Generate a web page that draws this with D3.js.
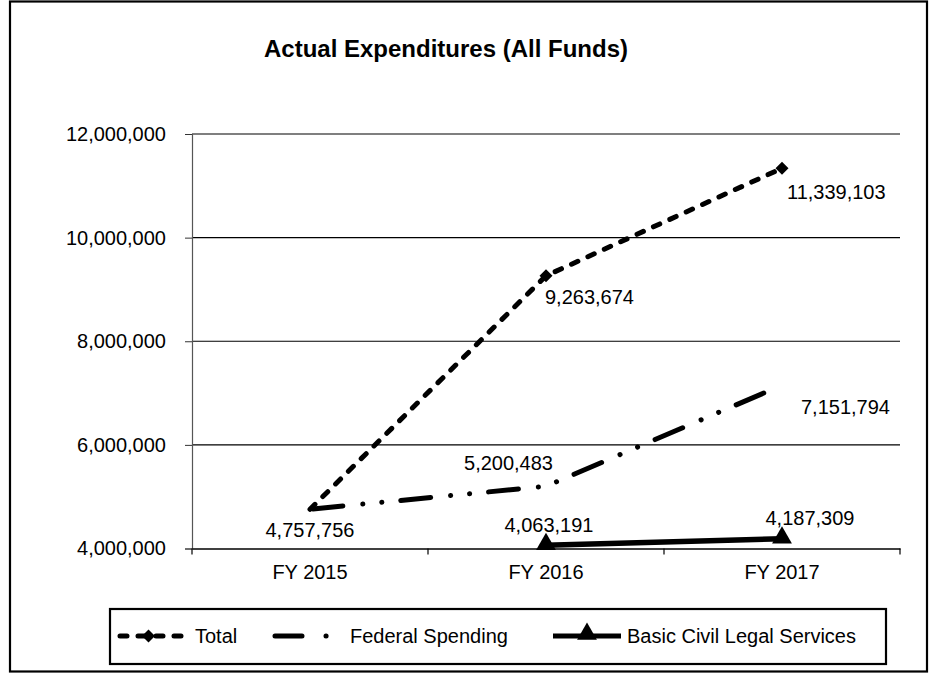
<!DOCTYPE html>
<html><head><meta charset="utf-8">
<script src="https://cdn.jsdelivr.net/npm/d3@7"></script>
<style>body{margin:0;background:#fff}svg{display:block}text{font-family:"Liberation Sans",Arial,sans-serif;fill:#000}</style>
</head><body><svg id="c" width="935" height="673"></svg>
<script>
const categories = ["FY 2015", "FY 2016", "FY 2017"];
const totalValues = [4757756, 9263674, 11339103];
const federalValues = [4757756, 5200483, 7151794];
const basicValues = [null, 4063191, 4187309];
const yTicks = [4000000, 6000000, 8000000, 10000000, 12000000];
const seriesNames = ["Total", "Federal Spending", "Basic Civil Legal Services"];

const svg = d3.select("#c");
svg.append("rect").attr("x",10).attr("y",1.5).attr("width",917).attr("height",670)
  .attr("fill","none").attr("stroke","#000").attr("stroke-width",2.2);

svg.append("text").attr("x",446).attr("y",57).attr("text-anchor","middle")
  .attr("font-size",24).attr("font-weight","bold").text("Actual Expenditures (All Funds)");

const L=192, R=900, T=134, B=548.5;
const x = d3.scaleBand().domain(categories).range([L,R]);
const y = d3.scaleLinear().domain([4000000,12000000]).range([B,T]);
const fmt = d3.format(",");

svg.append("g").selectAll("line").data(yTicks.slice(1)).join("line")
  .attr("x1",L).attr("x2",R).attr("y1",d=>y(d)).attr("y2",d=>y(d))
  .attr("stroke","#000").attr("stroke-width",1.2);

const yAxis = svg.append("g").attr("transform",`translate(${L},0)`)
  .call(d3.axisLeft(y).tickValues(yTicks).tickFormat(fmt).tickSize(7).tickPadding(19));
yAxis.select(".domain").attr("stroke","#555").attr("stroke-width",1.2);
yAxis.selectAll(".tick line").attr("stroke","#333");
yAxis.selectAll("text").attr("font-size",20).style("font-family","Liberation Sans, Arial");

const xAxis = svg.append("g").attr("transform",`translate(0,${B})`)
  .call(d3.axisBottom(x).tickSize(0).tickPadding(16));
xAxis.select(".domain").attr("stroke","#000").attr("stroke-width",1.3);
xAxis.selectAll("text").attr("font-size",20).style("font-family","Liberation Sans, Arial");
const bounds = categories.map(c=>x(c)).concat([R]);
svg.append("g").selectAll("line").data(bounds).join("line")
  .attr("x1",d=>d).attr("x2",d=>d).attr("y1",B).attr("y2",B+6).attr("stroke","#000").attr("stroke-width",1.2);

const cx = c => x(c)+x.bandwidth()/2;
const line = d3.line().defined(d=>d.v!=null).x(d=>cx(d.c)).y(d=>y(d.v));
const mk = vals => categories.map((c,i)=>({c, v:vals[i]}));

svg.append("path").datum(mk(federalValues)).attr("d",line).attr("fill","none")
  .attr("stroke","#000").attr("stroke-width",5).attr("stroke-dasharray","30,20,0.1,19,0.1,19")
  .attr("stroke-dashoffset",-3).attr("stroke-linecap","round");
svg.append("path").datum(mk(totalValues)).attr("d",line).attr("fill","none")
  .attr("stroke","#000").attr("stroke-width",5).attr("stroke-dasharray","7,11")
  .attr("stroke-linecap","round");
svg.append("path").datum(mk(basicValues)).attr("d",line).attr("fill","none")
  .attr("stroke","#000").attr("stroke-width",5.5);

const diamond = d3.symbol().type(d3.symbolSquare).size(85);
const tri = d3.symbol().type(d3.symbolTriangle).size(170);
svg.append("g").selectAll("path").data(mk(totalValues).slice(1)).join("path")
  .attr("d",diamond).attr("transform",d=>`translate(${cx(d.c)},${y(d.v)}) rotate(45)`);
svg.append("g").selectAll("path").data(mk(basicValues).filter(d=>d.v!=null)).join("path")
  .attr("d",tri).attr("transform",d=>`translate(${cx(d.c)},${y(d.v)-1})`);

const labels = [
  {c:categories[0], v:totalValues[0], dx:0, dy:28},
  {c:categories[1], v:totalValues[1], dx:-1, dy:28, anchor:"start"},
  {c:categories[2], v:totalValues[2], dx:5, dy:31, anchor:"start"},
  {c:categories[1], v:federalValues[1], dx:7, dy:-16, anchor:"end"},
  {c:categories[2], v:federalValues[2], dx:19, dy:29, anchor:"start"},
  {c:categories[1], v:basicValues[1], dx:3, dy:-13},
  {c:categories[2], v:basicValues[2], dx:28, dy:-14},
];
svg.append("g").selectAll("text").data(labels).join("text")
  .attr("x",d=>cx(d.c)+d.dx).attr("y",d=>y(d.v)+d.dy)
  .attr("text-anchor",d=>d.anchor||"middle").attr("font-size",20)
  .text(d=>fmt(d.v));

const lg = svg.append("g");
lg.append("rect").attr("x",110).attr("y",609).attr("width",776).attr("height",55)
  .attr("fill","none").attr("stroke","#000").attr("stroke-width",2.2);
const ly = 636;
const legendItems = [
  {x1:120, x2:183, tx:195, dash:"7,11", cap:"round", sym:"d"},
  {x1:275, x2:333, tx:350, dash:"27,24,0.1,40", cap:"round", sym:null},
  {x1:553, x2:621, tx:627, dash:null, cap:"butt", sym:"t"},
];
legendItems.forEach((it,i)=>{
  lg.append("line").attr("x1",it.x1).attr("x2",it.x2).attr("y1",ly).attr("y2",ly)
    .attr("stroke","#000").attr("stroke-width",5)
    .attr("stroke-dasharray",it.dash).attr("stroke-linecap",it.cap);
  const mx=(it.x1+it.x2)/2;
  if(it.sym==="d") lg.append("path").attr("d",diamond).attr("transform",`translate(${mx-3},${ly}) rotate(45)`);
  if(it.sym==="t") lg.append("path").attr("d",tri).attr("transform",`translate(${mx},${ly-2})`);
  lg.append("text").attr("x",it.tx).attr("y",ly+7).attr("font-size",20).text(seriesNames[i]);
});
</script></body></html>
